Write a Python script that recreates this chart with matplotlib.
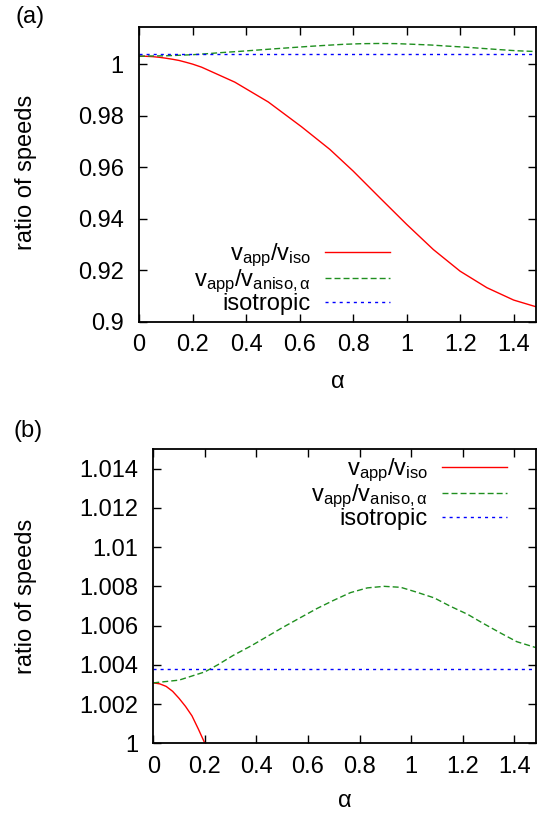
import matplotlib
matplotlib.use("Agg")
import matplotlib.pyplot as plt

plt.rcParams['font.family'] = ['Liberation Sans', 'DejaVu Sans']
plt.rcParams['mathtext.fontset'] = 'custom'
plt.rcParams['mathtext.rm'] = 'Liberation Sans'
plt.rcParams['mathtext.it'] = 'Liberation Sans:italic'

# ---- data ----
alpha_r = [0, 0.025, 0.05, 0.075, 0.1, 0.125, 0.15, 0.175, 0.2, 0.234, 0.358,
           0.483, 0.607, 0.713, 0.8, 0.9, 1.0, 1.1, 1.2, 1.3, 1.4, 1.4835]
v_app_iso = [1.00308, 1.00303, 1.0029, 1.00265, 1.00229, 1.00188, 1.0014,
             1.00072, 1.0000, 0.9988, 0.9930, 0.9853, 0.9757, 0.9669, 0.9585,
             0.9481, 0.9378, 0.9280, 0.9196, 0.9132, 0.9084, 0.9058]
alpha_g = [0, 0.1, 0.2, 0.25, 0.31, 0.38, 0.44, 0.5, 0.57, 0.635, 0.70, 0.765,
           0.83, 0.895, 0.96, 1.02, 1.09, 1.15, 1.22, 1.28, 1.35, 1.41, 1.4835]
v_app_aniso = [1.00308, 1.00322, 1.00364, 1.0040, 1.00448, 1.00497, 1.00543,
               1.00589, 1.0064, 1.00687, 1.00729, 1.00768, 1.00792, 1.0080,
               1.00795, 1.00771, 1.00741, 1.0070, 1.00657, 1.00611, 1.0056,
               1.00518, 1.00488]
alpha_iso = [0, 1.4835]
isotropic = [1.0038, 1.0038]

labels = [r'v$_\mathregular{app}$/v$_\mathregular{iso}$',
          r'v$_\mathregular{app}$/v$_\mathregular{aniso,α}$',
          'isotropic']

xticks = [0, 0.2, 0.4, 0.6, 0.8, 1.0, 1.2, 1.4]
xticklabels = ['0', '0.2', '0.4', '0.6', '0.8', '1', '1.2', '1.4']
yticks_a = [0.9, 0.92, 0.94, 0.96, 0.98, 1.0]
yticklabels_a = ['0.9', '0.92', '0.94', '0.96', '0.98', '1']
yticks_b = [1.0, 1.002, 1.004, 1.006, 1.008, 1.01, 1.012, 1.014]
yticklabels_b = ['1', '1.002', '1.004', '1.006', '1.008', '1.01', '1.012', '1.014']

W, H = 543, 816
fig = plt.figure(figsize=(W / 100, H / 100), dpi=100)

FS = 17
RED = '#ff0000'
GREEN = '#1f8f1f'
BLUE = '#0000ff'


def rect(l, t, r, b):
    return [l / W, 1 - b / H, (r - l) / W, (b - t) / H]


def style(ax):
    for s in ax.spines.values():
        s.set_linewidth(1.3)
    ax.tick_params(direction='in', length=6, width=1.0, top=True, right=True,
                   labelsize=FS)
    ax.tick_params(axis='x', pad=9)
    ax.tick_params(axis='y', pad=11)
    ax.set_xticks(xticks)
    ax.set_xticklabels(xticklabels)
    ax.set_xlim(0, 1.4835)
    ax.set_xlabel('α', fontsize=FS)
    ax.xaxis.label.set_va('center')
    ax.set_ylabel('ratio of speeds', fontsize=FS)


def draw(ax):
    ax.plot(alpha_r, v_app_iso, color=RED, lw=1.0, label=labels[0])
    ax.plot(alpha_g, v_app_aniso, color=GREEN, lw=1.0, dashes=(4.3, 2.2),
            label=labels[1])
    ax.plot(alpha_iso, isotropic, color=BLUE, lw=1.0, dashes=(2.2, 2.9),
            label=labels[2])


def legend(ax, x, y):
    ax.legend(loc='lower right', frameon=False, fontsize=FS,
              markerfirst=False, handlelength=2.75, handletextpad=0.6,
              labelspacing=-0.08, borderpad=0, borderaxespad=0,
              bbox_to_anchor=(x / W, 1 - y / H),
              bbox_transform=fig.transFigure)


# ---- panel (a) ----
ax1 = fig.add_axes(rect(139, 27, 536, 321.7))
draw(ax1)
style(ax1)
ax1.set_ylim(0.9, 1.0144)
ax1.set_yticks(yticks_a)
ax1.set_yticklabels(yticklabels_a)
ax1.xaxis.set_label_coords((139 + 536) / 2 / W, 1 - 382 / H,
                           transform=fig.transFigure)
ax1.yaxis.set_label_coords(37 / W, 1 - 172 / H, transform=fig.transFigure)
legend(ax1, 390, 315)

# ---- panel (b) ----
ax2 = fig.add_axes(rect(153.3, 449, 535.7, 743.3))
draw(ax2)
style(ax2)
ax2.set_ylim(1.0, 1.015)
ax2.set_yticks(yticks_b)
ax2.set_yticklabels(yticklabels_b)
ax2.xaxis.set_label_coords((153.3 + 535.7) / 2 / W, 1 - 801 / H,
                           transform=fig.transFigure)
ax2.yaxis.set_label_coords(37 / W, 1 - 596 / H, transform=fig.transFigure)
legend(ax2, 507, 530)

fig.text(30 / W, 1 - 17.5 / H, '(a)', fontsize=FS, ha='center', va='center')
fig.text(28.5 / W, 1 - 431 / H, '(b)', fontsize=FS, ha='center', va='center')

fig.savefig('out.png', dpi=100)
